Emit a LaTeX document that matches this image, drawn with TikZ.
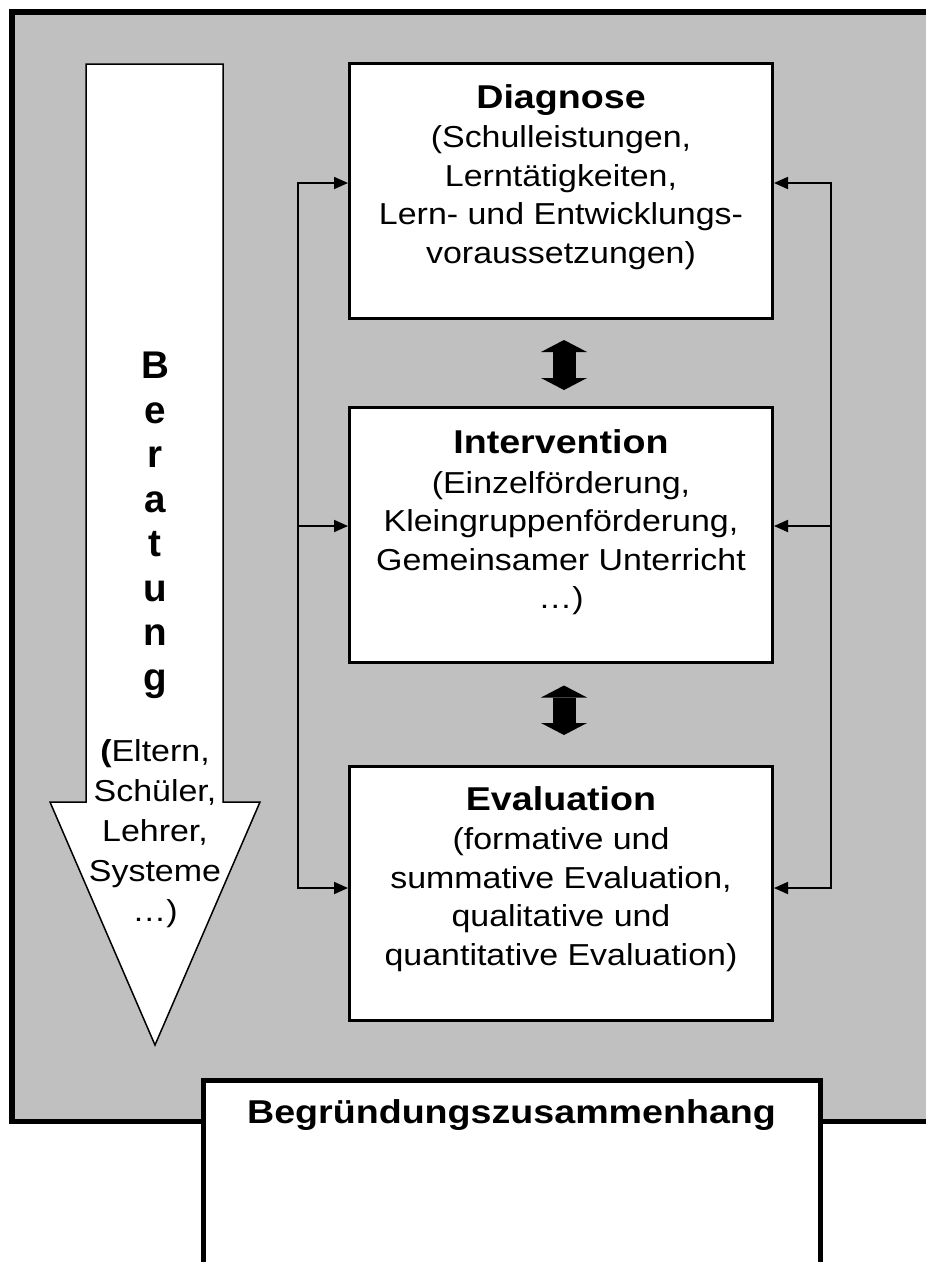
\documentclass[tikz,border=0pt]{standalone}
\usepackage{fontspec}
\setmainfont{Liberation Sans}[FakeStretch=1.12]
\newfontfamily\titelfont{Liberation Sans}[FakeStretch=1.14]
\newfontfamily\pfeilfont{Liberation Sans}
\usetikzlibrary{positioning,arrows.meta}
\definecolor{hintergrund}{HTML}{C0C0C0}
\newcommand{\titel}[1]{{\titelfont\fontsize{33}{38.5}\selectfont\bfseries #1}}
\tikzset{
  kasten/.style={draw,line width=3pt,fill=white,minimum width=423pt,minimum height=254.5pt},
  kastentext/.style={anchor=north,align=center,inner sep=0pt,font=\fontsize{30.3}{38.5}\selectfont},
  bus/.style={line width=1.8pt,{Triangle[length=14pt,width=12pt]}-{Triangle[length=14pt,width=12pt]}},
  pfeil/.style={line width=1.8pt,-{Triangle[length=14pt,width=12pt]}},
  doppelpfeil/.style={line width=23pt,{Triangle[length=12pt,width=46pt,line width=0pt]}-{Triangle[length=12pt,width=46pt,line width=0pt]}}
}
\begin{document}
\begin{tikzpicture}[x=1pt,y=-1pt]
\useasboundingbox (0,0) rectangle (926,1262);
\clip (0,0) rectangle (926,1262);
\draw[line width=5.5pt,fill=hintergrund] (12,12) rectangle (945,1121.5);
\draw[line width=1.5pt,fill=white] (86,64) -- (223,64) -- (223,802) -- (260,802) -- (155,1045) -- (50,802) -- (86,802) -- cycle;
\node[font=\pfeilfont\fontsize{38.6}{44.5}\selectfont\bfseries,align=center,anchor=north,inner sep=0pt] (beratung) at (155,352) {B\\e\\r\\a\\t\\u\\n\\g};
\node[kastentext,font=\fontsize{30.3}{40}\selectfont] (beteiligte) at (155,739) {{\bfseries(}Eltern,\\Schüler,\\Lehrer,\\Systeme\\…)};
\node[kasten] (diag) at (561,190.75) {};
\node[kasten] (interv) at (561,534.75) {};
\node[kasten] (eval) at (561,893.25) {};
\node[kastentext,below=22pt of diag.north] (diagtext) {\titel{Diagnose}\\[1pt](Schulleistungen,\\Lerntätigkeiten,\\Lern- und Entwicklungs-\\voraussetzungen)};
\node[kastentext,below=23.5pt of interv.north] (intervtext) {\titel{Intervention}\\[1pt](Einzelförderung,\\Kleingruppenförderung,\\Gemeinsamer Unterricht\\…)};
\node[kastentext,below=21.5pt of eval.north] (evaltext) {\titel{Evaluation}\\[1pt](formative und\\summative Evaluation,\\qualitative und\\quantitative Evaluation)};
\coordinate (lo) at (298,183);
\coordinate (lm) at (298,526);
\coordinate (lu) at (298,888);
\coordinate (ro) at (831,183);
\coordinate (rm) at (831,526);
\coordinate (ru) at (831,888);
\draw[bus] (lo -| diag.west) -- (lo) -- (lu) -- (lu -| eval.west);
\draw[pfeil] (lm) -- (lm -| interv.west);
\draw[bus] (ro -| diag.east) -- (ro) -- (ru) -- (ru -| eval.east);
\draw[pfeil] (rm) -- (rm -| interv.east);
\draw[doppelpfeil] ([xshift=3pt,yshift=-20.5pt]diag.south) -- ([xshift=3pt,yshift=16pt]interv.north);
\draw[doppelpfeil] ([xshift=3pt,yshift=-22pt]interv.south) -- ([xshift=3pt,yshift=29.5pt]eval.north);
\node[draw,line width=5pt,fill=white,outer sep=0pt,minimum width=617pt,minimum height=250pt,anchor=north] (begr) at (511.5,1080) {};
\node[kastentext,below=19pt of begr.north] (begrtext) {\titel{Begründungszusammenhang}};
\end{tikzpicture}
\end{document}
